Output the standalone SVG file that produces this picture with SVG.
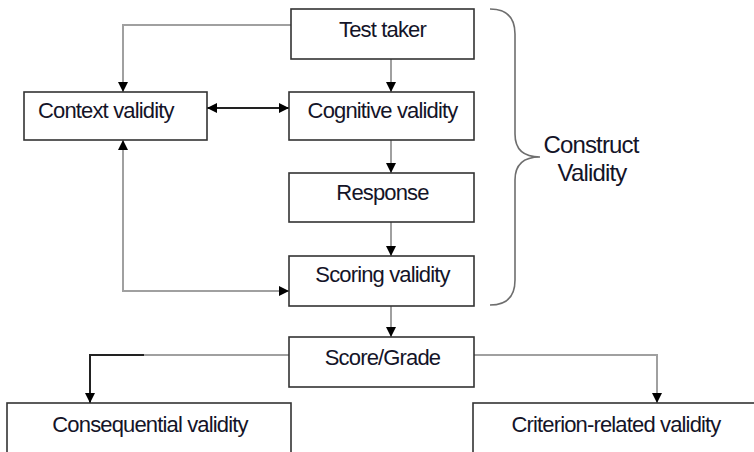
<svg xmlns="http://www.w3.org/2000/svg" width="754" height="452" viewBox="0 0 754 452">
<style>
.box{fill:#fff;stroke:#333;stroke-width:1.6}
.t{font-family:"Liberation Sans",Arial,sans-serif;font-size:22px;fill:#141428;letter-spacing:-0.85px}
.c{text-anchor:middle}
.g{fill:none;stroke:#a0a0a0;stroke-width:2}
.k{fill:none;stroke:#222;stroke-width:2}
.br{fill:none;stroke:#6e6e6e;stroke-width:1.6}
</style>
<defs>
<marker id="ah" viewBox="0 0 10 10" refX="10" refY="5" markerWidth="10" markerHeight="10" markerUnits="userSpaceOnUse" orient="auto-start-reverse">
<path d="M0,0 L10,5 L0,10 Z" fill="#000"/>
</marker>
</defs>
<g id="connectors">
<polyline class="g" points="291,25 123,25 123,92" marker-end="url(#ah)"/>
<line class="k" x1="207" y1="108" x2="289" y2="108" marker-start="url(#ah)" marker-end="url(#ah)"/>
<line class="g" x1="391" y1="59" x2="391" y2="92" marker-end="url(#ah)"/>
<line class="g" x1="391" y1="140" x2="391" y2="173" marker-end="url(#ah)"/>
<line class="g" x1="391" y1="222" x2="391" y2="256" marker-end="url(#ah)"/>
<polyline class="g" points="123,140 123,291 289,291" marker-start="url(#ah)" marker-end="url(#ah)"/>
<line class="g" x1="391" y1="306" x2="391" y2="337" marker-end="url(#ah)"/>
<polyline class="g" points="289,355 143,355"/>
<polyline class="k" points="144,355 90,355 90,403" marker-end="url(#ah)"/>
<polyline class="g" points="474,355 657,355 657,403" marker-end="url(#ah)"/>
</g>
<g id="test-taker"><rect class="box" x="291" y="9" width="183" height="50"/><text class="t c" x="382.5" y="37">Test taker</text></g>
<g id="context-validity"><rect class="box" x="24" y="92" width="183" height="48"/><text class="t" x="38" y="118">Context validity</text></g>
<g id="cognitive-validity"><rect class="box" x="289" y="92" width="185" height="48"/><text class="t c" x="382.5" y="118">Cognitive validity</text></g>
<g id="response"><rect class="box" x="289" y="173" width="185" height="49"/><text class="t c" x="382.5" y="200">Response</text></g>
<g id="scoring-validity"><rect class="box" x="289" y="256" width="185" height="50"/><text class="t c" x="382.5" y="282">Scoring validity</text></g>
<g id="score-grade"><rect class="box" x="289" y="337" width="185" height="50"/><text class="t c" x="382.5" y="365">Score/Grade</text></g>
<g id="consequential-validity"><rect class="box" x="7" y="403" width="284" height="60"/><text class="t c" x="150" y="432">Consequential validity</text></g>
<g id="criterion-related-validity"><rect class="box" x="473" y="403" width="290" height="60"/><text class="t c" x="616" y="432">Criterion-related validity</text></g>
<g id="construct-validity">
<path class="br" d="M490,9 Q515,9 515,34 L515,134 Q515,157 540,157 Q515,157 515,180 L515,280 Q515,305 490,305"/>
<text class="t c" x="591" y="153" style="font-size:24px">Construct</text>
<text class="t c" x="592" y="181" style="font-size:24px">Validity</text>
</g>
</svg>
